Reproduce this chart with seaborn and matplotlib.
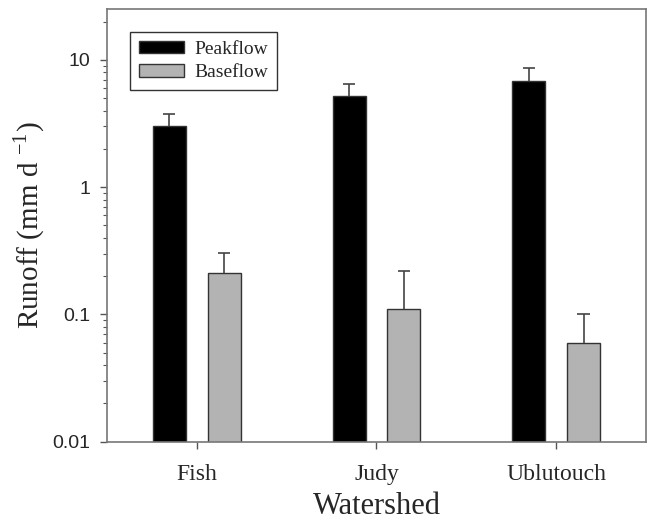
import matplotlib
matplotlib.use("Agg")
import matplotlib.pyplot as plt
from matplotlib.ticker import FuncFormatter, LogLocator
import pandas as pd
import seaborn as sns

watersheds = ["Fish", "Judy", "Ublutouch"]
flow_types = ["Peakflow", "Baseflow"]
peakflow = [3.0, 5.2, 6.85]
peakflow_err = [0.76, 1.24, 1.75]
baseflow = [0.21, 0.111, 0.06]
baseflow_err = [0.093, 0.11, 0.04]

df = pd.DataFrame({
    "Watershed": watersheds * 2,
    "Flow": [flow_types[0]] * 3 + [flow_types[1]] * 3,
    "Runoff": peakflow + baseflow,
})
errors = {flow_types[0]: peakflow_err, flow_types[1]: baseflow_err}

sns.set_style("ticks")
plt.rcParams["font.family"] = ["Liberation Serif", "DejaVu Serif"]
plt.rcParams["mathtext.fontset"] = "stix"

fig = plt.figure(figsize=(6.48, 5.23), dpi=100)
ax = fig.add_axes([0.165, 0.1555, 0.832, 0.8267])

sns.barplot(
    data=df, x="Watershed", y="Runoff", hue="Flow",
    order=watersheds, hue_order=flow_types,
    palette=["black", "#b3b3b3"], width=0.61, gap=0.4,
    edgecolor="#333333", linewidth=1.0, errorbar=None, ax=ax,
)
ax.set_yscale("log")

# upper-only error bars with a cap on top
cap_half = 0.034
for container, flow in zip(ax.containers, flow_types):
    for bar, err in zip(container, errors[flow]):
        xc = bar.get_x() + bar.get_width() / 2
        h = bar.get_height()
        ax.vlines(xc, h, h + err, color="#444444", linewidth=1.2, zorder=3)
        ax.hlines(h + err, xc - cap_half, xc + cap_half, color="#444444",
                  linewidth=1.2, zorder=3)

ax.set_ylim(0.01, 25)
ax.set_xlim(-0.5, 2.5)
ax.yaxis.set_major_locator(LogLocator(base=10, numticks=10))
ax.yaxis.set_minor_locator(LogLocator(base=10, subs=range(2, 10), numticks=20))
ax.yaxis.set_major_formatter(FuncFormatter(lambda v, p: f"{v:g}"))

for s in ax.spines.values():
    s.set_color("#777777")
    s.set_linewidth(1.2)
ax.tick_params(axis="both", which="major", direction="out", length=5,
               width=1.0, color="#555555")
ax.tick_params(axis="y", which="minor", direction="out", length=3,
               width=0.8, color="#555555")
ax.tick_params(axis="x", labelsize=17, pad=11)
ax.tick_params(axis="y", pad=7)
for lab in ax.get_yticklabels():
    lab.set_fontfamily(["Liberation Sans", "DejaVu Sans"])
    lab.set_fontsize(14)

ax.set_xlabel("Watershed", fontsize=22, labelpad=5)
ax.set_ylabel("Runoff (mm d $^{\\mathregular{-1}}$)", fontsize=21, labelpad=4)

leg = ax.legend(loc="upper left", bbox_to_anchor=(0.043, 0.948), frameon=True,
                fancybox=False, edgecolor="black", fontsize=14,
                handlelength=2.3, handleheight=0.6, borderpad=0.45,
                labelspacing=0.35, handletextpad=0.55, borderaxespad=0)
leg.get_frame().set_linewidth(1.0)
for h in leg.legend_handles:
    h.set_edgecolor("#333333")

fig.savefig("out.png", dpi=100)
